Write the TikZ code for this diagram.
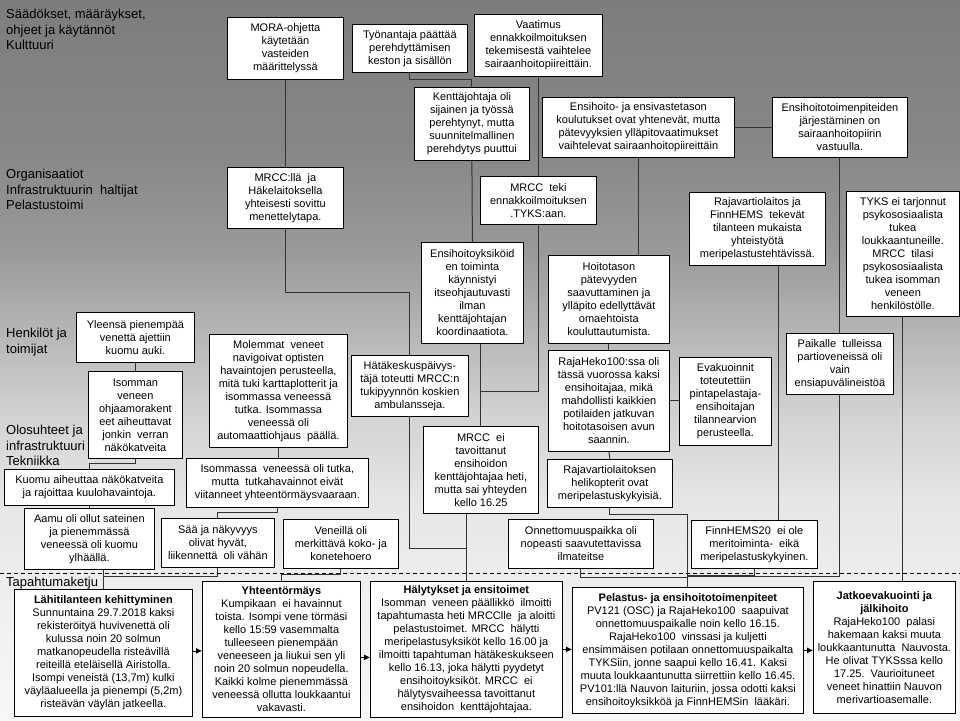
\documentclass[tikz,border=0pt]{standalone}
\usepackage{fontspec}
\setmainfont{Liberation Sans}
\usetikzlibrary{arrows.meta}
\newcommand\bx[6]{\node[box,anchor=north west,minimum width=#4pt,minimum height=#5pt] (#1) at (#2,#3) {#6};}
\definecolor{bga}{gray}{0.49}
\definecolor{bgb}{gray}{0.53}
\definecolor{bgc}{gray}{0.60}
\definecolor{bgd}{gray}{0.71}
\definecolor{bge}{gray}{0.83}
\definecolor{bgf}{gray}{0.90}
\definecolor{bgg}{gray}{0.93}
\definecolor{bgh}{gray}{0.97}
\begin{document}
\begin{tikzpicture}[x=1pt,y=-1pt,
  box/.style={draw=black,line width=0.8pt,fill=white,align=center,inner sep=2pt,font=\fontsize{11}{13}\selectfont},
  lab/.style={align=left,inner sep=0pt,anchor=north west,font=\fontsize{13}{15.5}\selectfont},
  link/.style={draw=black!80,line width=1pt},
  arr/.style={draw=black,line width=0.8pt,-{Latex[length=6pt,width=6pt]}}]
\useasboundingbox (0,0) rectangle (960,720);
% background
\shade[top color=bga,bottom color=bgb] (0,0) rectangle (960,150);
\shade[top color=bgb,bottom color=bgc] (0,150) rectangle (960,250);
\shade[top color=bgc,bottom color=bgd] (0,250) rectangle (960,330);
\shade[top color=bgd,bottom color=bge] (0,330) rectangle (960,420);
\shade[top color=bge,bottom color=bgf] (0,420) rectangle (960,500);
\shade[top color=bgf,bottom color=bgg] (0,500) rectangle (960,573);
\shade[top color=bgg,bottom color=bgh] (0,573) rectangle (960,720);
\draw[black,line width=0.8pt,dash pattern=on 4pt off 3pt] (0,573) -- (960,573);
% layer labels
\node[lab] (l1) at (6,9) {Säädökset, määräykset,\\ohjeet ja käytännöt\\Kulttuuri};
\node[lab] (l2) at (6,169) {Organisaatiot\\Infrastruktuurin\ \ haltijat\\Pelastustoimi};
\node[lab] (l3) at (6,328) {Henkilöt ja\\toimijat};
\node[lab] (l4) at (6,425) {Olosuhteet ja\\infrastruktuuri\\Tekniikka};
\node[lab] (l5) at (6,577) {Tapahtumaketju};
% boxes
\bx{mora}{227}{17}{116}{62}{MORA-ohjetta\\käytetään\\vasteiden\\määrittelyssä}
\bx{tyonantaja}{352}{24}{115}{48}{Työnantaja päättää\\perehdyttämisen\\keston ja sisällön}
\bx{vaatimus}{474}{14}{128}{62}{Vaatimus\\ennakkoilmoituksen\\tekemisestä vaihtelee\\sairaanhoitopiireittäin.}
\bx{kenttajoht}{414}{87}{115}{73}{Kenttäjohtaja oli\\sijainen ja työssä\\perehtynyt, mutta\\suunnitelmallinen\\perehdytys puuttui}
\bx{koulutus}{542}{97}{192}{60}{Ensihoito- ja ensivastetason\\koulutukset ovat yhtenevät, mutta\\pätevyyksien ylläpitovaatimukset\\vaihtelevat sairaanhoitopiireittäin}
\bx{jarjest}{772}{97}{135}{60}{Ensihoitotoimenpiteiden\\järjestäminen on\\sairaanhoitopiirin\\vastuulla.}
\bx{mrccla}{227}{167}{116}{61}{MRCC:llä\ \ ja\\Häkelaitoksella\\yhteisesti sovittu\\menettelytapa.}
\bx{teki}{480}{176}{116}{48}{MRCC\ \ teki\\ennakkoilmoituksen\\.TYKS:aan.}
\bx{rajafinn}{689}{192}{136}{73}{Rajavartiolaitos ja\\FinnHEMS\ \ tekevät\\tilanteen mukaista\\yhteistyötä\\meripelastustehtävissä.}
\bx{tyks}{846}{191}{113}{125}{TYKS ei tarjonnut\\psykososiaalista\\tukea\\loukkaantuneille.\\MRCC\ \ tilasi\\psykososiaalista\\tukea isomman\\veneen\\henkilöstölle.}
\bx{kpd}{421}{242}{102}{101}{Ensihoitoyksiköid\\en toiminta\\käynnistyi\\itseohjautuvasti\\ilman\\kenttäjohtajan\\koordinaatiota.}
\bx{hoitotaso}{548}{255}{121}{88}{Hoitotason\\pätevyyden\\saavuttaminen ja\\ylläpito edellyttävät\\omaehtoista\\kouluttautumista.}
\bx{yleensa}{76}{312}{118}{50}{Yleensä pienempää\\venettä ajettiin\\kuomu auki.}
\bx{molemmat}{209}{334}{138}{113}{Molemmat\ \ veneet\\navigoivat optisten\\havaintojen perusteella,\\mitä tuki karttaplotterit ja\\isommassa veneessä\\tutka. Isommassa\\veneessä oli\\automaattiohjaus\ \ päällä.}
\bx{hatake}{351}{355}{117}{61}{Hätäkeskuspäivys-\\täjä toteutti MRCC:n\\tukipyynnön koskien\\ambulansseja.}
\bx{rajaheko}{548}{350}{121}{101}{RajaHeko100:ssa oli\\tässä vuorossa kaksi\\ensihoitajaa, mikä\\mahdollisti kaikkien\\potilaiden jatkuvan\\hoitotasoisen avun\\saannin.}
\bx{evak}{679}{357}{92}{88}{Evakuoinnit\\toteutettiin\\pintapelastaja-\\ensihoitajan\\tilannearvion\\perusteella.}
\bx{paikalle}{786}{333}{107}{61}{Paikalle\ \ tulleissa\\partioveneissä oli\\vain\\ensiapuvälineistöä}
\bx{ohjaamo}{88}{371}{94}{87}{Isomman\\veneen\\ohjaamorakent\\eet aiheuttavat\\jonkin\ \ verran\\näkökatveita}
\bx{kuomu}{4}{469}{170}{36}{Kuomu aiheuttaa näkökatveita\\ja rajoittaa kuulohavaintoja.}
\bx{aamu}{24}{508}{130}{61}{Aamu oli ollut sateinen\\ja pienemmässä\\veneessä oli kuomu\\ylhäällä.}
\bx{tutka}{186}{458}{182}{49}{Isommassa\ \ veneessä oli tutka,\\mutta\ \ tutkahavainnot eivät\\viitanneet yhteentörmäysvaaraan.}
\bx{saa}{161}{518}{113}{49}{Sää ja näkyvyys\\olivat hyvät,\\liikennettä\ \ oli vähän}
\bx{veneilla}{283}{519}{115}{49}{Veneillä oli\\merkittävä koko- ja\\konetehoero}
\bx{eitav}{423}{426}{115}{87}{MRCC\ \ ei\\tavoittanut\\ensihoidon\\kenttäjohtajaa heti,\\mutta sai yhteyden\\kello 16.25}
\bx{heli}{547}{459}{125}{48}{Rajavartiolaitoksen\\helikopterit ovat\\meripelastuskykyisiä.}
\bx{onnpaikka}{508}{519}{145}{49}{Onnettomuuspaikka oli\\nopeasti saavutettavissa\\ilmateitse}
\bx{finnhems}{691}{520}{126}{48}{FinnHEMS20\ \ ei ole\\meritoiminta-\ \ eikä\\meripelastuskykyinen.}
% event chain
\bx{lahi}{14}{589}{178}{127}{\textbf{Lähitilanteen kehittyminen}\\Sunnuntaina 29.7.2018 kaksi\\rekisteröityä huvivenettä oli\\kulussa noin 20 solmun\\matkanopeudella risteävillä\\reiteillä eteläisellä Airistolla.\\Isompi veneistä (13,7m) kulki\\väyläalueella ja pienempi (5,2m)\\risteävän väylän jatkeella.}
\bx{yht}{202}{581}{158}{136}{\textbf{Yhteentörmäys}\\Kumpikaan\ \ ei havainnut\\toista. Isompi vene törmäsi\\kello 15:59 vasemmalta\\tulleeseen pienempään\\veneeseen ja liukui sen yli\\noin 20 solmun nopeudella.\\Kaikki kolme pienemmässä\\veneessä ollutta loukkaantui\\vakavasti.}
\bx{halyt}{370}{581}{192}{136}{\textbf{Hälytykset ja ensitoimet}\\Isomman\ \ veneen päällikkö\ \ ilmoitti\\tapahtumasta heti MRCClle\ \ ja aloitti\\pelastustoimet. MRCC\ \ hälytti\\meripelastusyksiköt kello 16.00 ja\\ilmoitti tapahtuman hätäkeskukseen\\kello 16.13, joka hälytti pyydetyt\\ensihoitoyksiköt. MRCC\ \ ei\\hälytysvaiheessa tavoittanut\\ensihoidon\ \ kenttäjohtajaa.}
\bx{pel}{572}{587}{231}{126}{\textbf{Pelastus- ja ensihoitotoimenpiteet}\\PV121 (OSC) ja RajaHeko100\ \ saapuivat\\onnettomuuspaikalle noin kello 16.15.\\RajaHeko100\ \ vinssasi ja kuljetti\\ensimmäisen potilaan onnettomuuspaikalta\\TYKSiin, jonne saapui kello 16.41. Kaksi\\muuta loukkaantunutta siirrettiin kello 16.45.\\PV101:llä Nauvon laituriin, jossa odotti kaksi\\ensihoitoyksikköä ja FinnHEMSin\ \ lääkäri.}
\bx{jatko}{813}{581}{142}{132}{\textbf{Jatkoevakuointi ja}\\\textbf{jälkihoito}\\RajaHeko100\ \ palasi\\hakemaan kaksi muuta\\loukkaantunutta\ \ Nauvosta.\\He olivat TYKSssa kello\\17.25.\ \ Vaurioituneet\\veneet hinattiin Nauvon\\merivartioasemalle.}
% connectors
\draw[link] (mora.south) -- (mrccla.north);
\draw[link] (mrccla.south) -- ++(0,64) -| (hatake.north);
\draw[link] (hatake.south) -- ++(0,132) -| (halyt.north);
\draw[link] (eitav.south -| halyt.north) -- (halyt.north);
\draw[link] (kpd.south -| eitav.north) -- (eitav.north);
\draw[link] (vaatimus.south) -- (teki.north);
\draw[link] (teki.south) -- ++(0,167) -| (eitav.north);
\draw[link] (tyonantaja.south) -- ++(0,7) -| (kenttajoht.north);
\draw[link] (kenttajoht.south) -- (kpd.north);
\draw[link] (koulutus.south) -- (koulutus.south |- hoitotaso.north);
\draw[link] (koulutus.east) -- (jarjest.west);
\draw[link] (jarjest.south) -- (paikalle.north);
\draw[link] ([xshift=21pt]rajafinn.south) -- ([xshift=21pt]rajafinn.south |- finnhems.north);
\draw[link] (hoitotaso.south) -- (rajaheko.north);
\draw[link] (rajaheko.south) -- (heli.north);
\draw[link] (rajaheko.east) -- (rajaheko.east -| evak.west);
\draw[link] (heli.south) -- ++(0,7) -| (pel.north);
\draw[link] (onnpaikka.south) -- ++(0,9) -| (pel.north);
\draw[link] (finnhems.south) -- ++(0,7) -| (pel.north);
\draw[link] (paikalle.south) -- ++(0,182) -| (pel.north);
\draw[link] (tyks.south) -- (tyks.south |- jatko.north);
\draw[link] (yleensa.south) -- (ohjaamo.north);
\draw[link] (ohjaamo.south) -- ++(0,5) -| (kuomu.north);
\draw[link] (kuomu.south) -- (aamu.north);
\draw[link] (aamu.south -| lahi.north) -- (lahi.north);
\draw[link] (saa.south) -- ++(0,9) -| (lahi.north);
\draw[link] (molemmat.south) -- (molemmat.south |- tutka.north);
\draw[link] (tutka.south) -- ++(0,5) -| (saa.north);
\draw[link] (veneilla.south) -- ++(0,6) -| (yht.north);
% chain arrows
\draw[arr] ([yshift=2pt]lahi.east) -- ([yshift=2pt]lahi.east -| yht.west);
\draw[arr] ([yshift=-8pt]yht.east) -- ([yshift=-8pt]yht.east -| halyt.west);
\draw[arr] (halyt.east) -- (halyt.east -| pel.west);
\draw[arr] (pel.east) -- (pel.east -| jatko.west);
\end{tikzpicture}
\end{document}
